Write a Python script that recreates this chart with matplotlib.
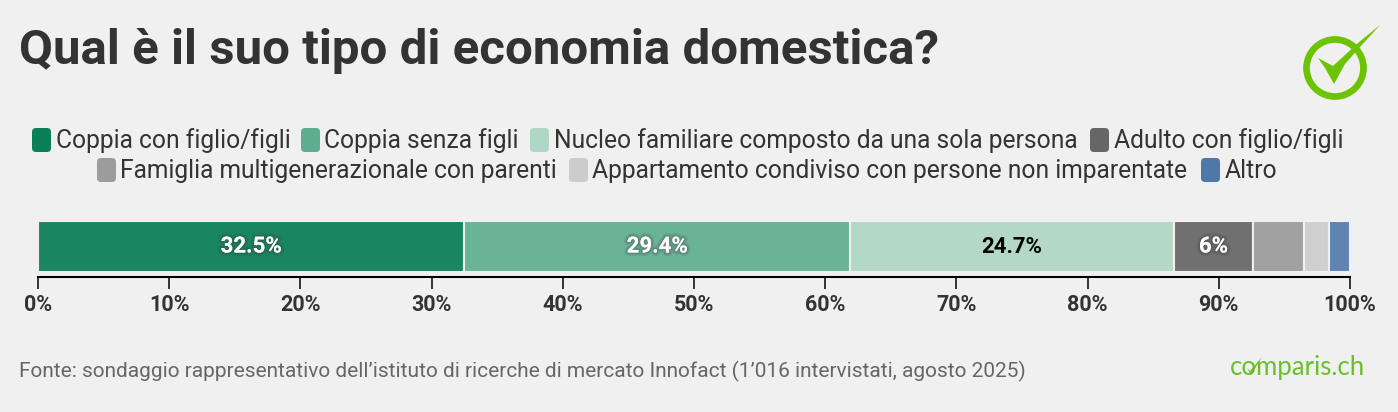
import matplotlib
matplotlib.use('Agg')
import matplotlib.pyplot as plt
import matplotlib.patheffects as pe
from matplotlib.patches import FancyBboxPatch, Circle, Polygon

plt.rcParams['font.family'] = ['Roboto', 'DejaVu Sans']

W, H = 1398, 412
BG = '#f0f0f0'

title = 'Qual è il suo tipo di economia domestica?'
source = 'Fonte: sondaggio rappresentativo dell’istituto di ricerche di mercato Innofact (1’016 intervistati, agosto 2025)'

categories = ['Coppia con figlio/figli', 'Coppia senza figli',
              'Nucleo familiare composto da una sola persona', 'Adulto con figlio/figli',
              'Famiglia multigenerazionale con parenti',
              'Appartamento condiviso con persone non imparentate', 'Altro']
values = [32.5, 29.4, 24.7, 6, 3.9, 1.9, 1.6]
labels = ['32.5%', '29.4%', '24.7%', '6%', '', '', '']
bar_colors = ['#1a8661', '#6bb398', '#b4d8c8', '#707070', '#a0a0a0', '#cfcfcf', '#5f84b2']
key_colors = ['#0b7f58', '#5fad90', '#b0d6c5', '#666666', '#9c9c9c', '#cccccc', '#4f78a8']
label_colors = ['white', 'white', 'black', 'white', 'white', 'white', 'white']
ticks = [0, 10, 20, 30, 40, 50, 60, 70, 80, 90, 100]

# legend rows: start of the key in pixels, one list per row
row1_x = [32, 301, 530, 1090]
row2_x = [97, 569, 1201]

fig = plt.figure(figsize=(W / 100, H / 100), dpi=100, facecolor=BG)

# overlay in pixel coordinates for title, legend, logo
bg = fig.add_axes([0, 0, 1, 1])
bg.set_xlim(0, W)
bg.set_ylim(H, 0)
bg.axis('off')

bg.text(19, 51, title, fontsize=35.5, fontweight='bold', color='#333333', va='center', ha='left')


def legend_item(x, y, color, text):
    bg.add_patch(FancyBboxPatch((x + 3, y - 9), 13, 18, boxstyle='round,pad=3,rounding_size=4', lw=0, fc=color))
    bg.text(x + 23.5, y + 0.7, text, fontsize=17.77, color='#333333', va='center', ha='left')


for i, x in enumerate(row1_x):
    legend_item(x, 140, key_colors[i], categories[i])
for i, x in enumerate(row2_x):
    legend_item(x, 170, key_colors[i + 4], categories[i + 4])

# bar
ax = fig.add_axes([38 / W, 1 - 277 / H, (1350 - 38) / W, 55 / H])
ax.set_facecolor('none')
ax.set_xlim(0, 100)
ax.set_ylim(0, 55)
left = 0
for v, c, lab, lc in zip(values, bar_colors, labels, label_colors):
    ax.barh(30.5, v, height=50.5, left=left, color=c, edgecolor=BG, linewidth=1.5)
    if lab:
        t = ax.text(left + v / 2, 30.5, lab, color=lc, fontsize=16, fontweight='bold', ha='center', va='center')
        if lc == 'white':
            t.set_path_effects([pe.withStroke(linewidth=5, foreground='#333333', alpha=0.12),
                                pe.withStroke(linewidth=2.5, foreground='#333333', alpha=0.2)])
    left += v

for s in ['top', 'left', 'right']:
    ax.spines[s].set_visible(False)
ax.spines['bottom'].set_linewidth(1.5)
ax.spines['bottom'].set_color('black')
ax.set_yticks([])
ax.set_xticks(ticks)
ax.set_xticklabels(['%d%%' % t for t in ticks], fontsize=15.5, fontweight='bold', color='#333333')
ax.tick_params(axis='x', length=8.5, width=1.1, color='black', pad=3.5)

bg.text(19, 371, source, fontsize=15.03, color='#666666', va='center', ha='left')

# logo top right
GREEN = '#6cc400'
bg.add_patch(Circle((1335, 68), 28.5, fc='none', ec=GREEN, lw=4.8))
bg.add_patch(Polygon([(1318, 58), (1333, 66), (1358, 43), (1380, 25), (1360, 47),
                      (1345, 64), (1334, 84), (1325, 68)], fc=GREEN, lw=0))

# wordmark
bg.text(1365, 367, 'comparis.ch', fontsize=18.5, color='#6cbf2c', family=['Lato', 'DejaVu Sans'],
        va='center', ha='right')
bg.add_patch(Polygon([(1247, 368), (1250, 371), (1262, 357), (1251, 375)], fc='#6cbf2c', lw=0))

fig.savefig('out.png', dpi=100, facecolor=BG)
